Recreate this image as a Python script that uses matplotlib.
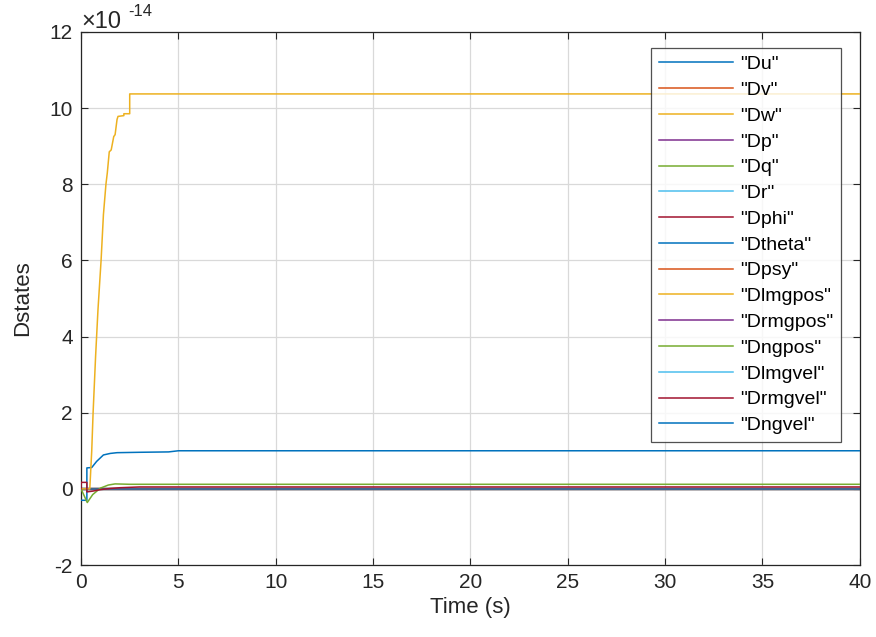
import numpy as np
import matplotlib
matplotlib.use("Agg")
import matplotlib.pyplot as plt

# ---- data (values in units of 1e-14) ----
labels = ['"Du"', '"Dv"', '"Dw"', '"Dp"', '"Dq"', '"Dr"', '"Dphi"', '"Dtheta"',
          '"Dpsy"', '"Dlmgpos"', '"Drmgpos"', '"Dngpos"', '"Dlmgvel"',
          '"Drmgvel"', '"Dngvel"']

t_du = [0, 0.3, 0.3, 0.55, 0.8, 1.15, 1.5, 1.85, 3.0, 4.5, 5.0, 40]
v_du = [-0.3, -0.3, 0.55, 0.56, 0.72, 0.89, 0.93, 0.95, 0.96, 0.97, 1.0, 1.0]

t_dw = [0, 0.45, 0.55, 0.62, 0.75, 0.87, 1.03, 1.15, 1.28, 1.35, 1.45, 1.55,
        1.68, 1.75, 1.8, 1.85, 1.9, 2.2, 2.2, 2.5, 2.5, 40]
v_dw = [0, 0, 1.0, 2.0, 3.5, 4.7, 6.0, 7.2, 8.0, 8.3, 8.85, 8.9,
        9.25, 9.3, 9.5, 9.7, 9.78, 9.8, 9.85, 9.85, 10.37, 10.37]

t_dq = [0, 0.32, 0.6, 1.0, 1.4, 1.75, 2.5, 40]
v_dq = [0, -0.36, -0.15, 0.02, 0.1, 0.13, 0.12, 0.12]

t_dphi = [0, 0, 0.3, 0.3, 0.6, 1.0, 1.5, 2.0, 3.0, 40]
v_dphi = [0, 0.17, 0.17, -0.08, -0.06, -0.02, 0.01, 0.03, 0.05, 0.05]

t_zero = [0, 40]
v_zero = [0, 0]

colors = ["#0072BD", "#D95319", "#EDB120", "#7E2F8E", "#77AC30", "#4DBEEE", "#A2142F"]

series = {
    '"Du"': (t_du, v_du),
    '"Dw"': (t_dw, v_dw),
    '"Dq"': (t_dq, v_dq),
    '"Dphi"': (t_dphi, v_dphi),
}

plt.rcParams["font.family"] = ["Liberation Sans", "DejaVu Sans"]
plt.rcParams["axes.unicode_minus"] = False
dark = "#262626"

fig = plt.figure(figsize=(8.76, 6.37), dpi=100)
ax = fig.add_axes([0.0925, 0.113, 0.889, 0.837])

for i, lab in enumerate(labels):
    c = colors[i % len(colors)]
    if lab in series:
        t, v = series[lab]
        ax.plot(t, v, color=c, lw=1.1, label=lab, zorder=3)
    else:
        ax.plot(t_zero, v_zero, color=c, lw=1.6, alpha=0.5, label=lab, zorder=2)

ax.set_xlim(0, 40)
ax.set_ylim(-2, 12)
ax.set_xticks(np.arange(0, 41, 5))
ax.set_yticks(np.arange(-2, 13, 2))
ax.grid(True, color="#d9d9d9", lw=0.9)
ax.set_axisbelow(True)
ax.tick_params(direction="in", top=True, right=True, length=5, width=0.8,
               labelsize=15, colors=dark, pad=6)
for s in ax.spines.values():
    s.set_color(dark)
    s.set_linewidth(0.9)

ax.set_xlabel("Time (s)", fontsize=16, color=dark, labelpad=3)
ax.set_ylabel("Dstates", fontsize=16, color=dark, labelpad=12)

# exponent label, MATLAB style
ax.text(0.0, 1.0075, "\u00d710", transform=ax.transAxes,
        fontsize=17, color=dark, va="baseline", ha="left")
ax.text(0.0605, 1.030, "-14", transform=ax.transAxes,
        fontsize=12, color=dark, va="baseline", ha="left")

leg = ax.legend(loc="upper right", bbox_to_anchor=(0.9756, 0.970), fontsize=14,
                frameon=True, fancybox=False, edgecolor=dark,
                handlelength=3.8, handletextpad=0.35, labelspacing=0.42,
                borderpad=0.4, borderaxespad=0)
leg.get_frame().set_linewidth(0.9)
for h in leg.get_lines():
    h.set_alpha(1)
    h.set_linewidth(1.1)

fig.savefig("out.png", dpi=100)
